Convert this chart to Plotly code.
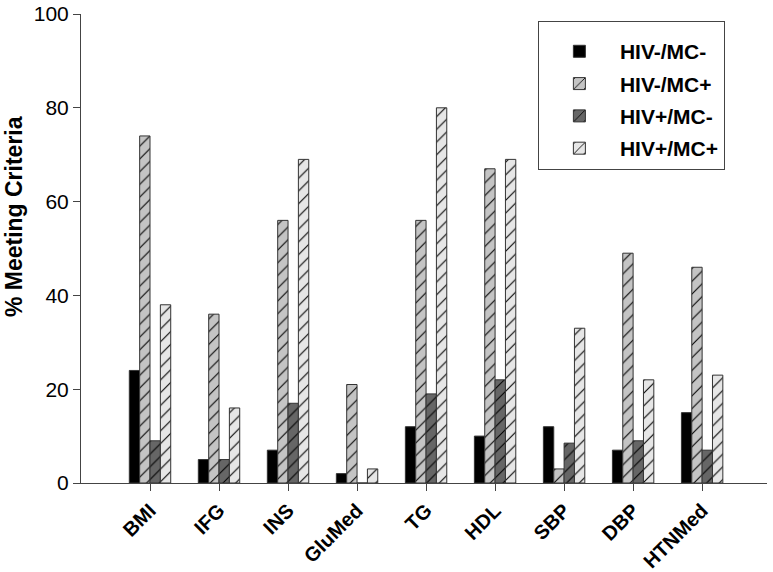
import plotly.graph_objects as go

categories = ["BMI", "IFG", "INS", "GluMed", "TG", "HDL", "SBP", "DBP", "HTNMed"]
hiv_neg_mc_neg = [24, 5, 7, 2, 12, 10, 12, 7, 15]
hiv_neg_mc_pos = [74, 36, 56, 21, 56, 67, 3, 49, 46]
hiv_pos_mc_neg = [9, 5, 17, 0, 19, 22, 8.5, 9, 7]
hiv_pos_mc_pos = [38, 16, 69, 3, 80, 69, 33, 22, 23]
y_ticks = [0, 20, 40, 60, 80, 100]
y_title = "% Meeting Criteria"

series = [
    ("HIV-/MC-", hiv_neg_mc_neg, "#000000", ""),
    ("HIV-/MC+", hiv_neg_mc_pos, "#c4c4c4", "/"),
    ("HIV+/MC-", hiv_pos_mc_neg, "#666666", "/"),
    ("HIV+/MC+", hiv_pos_mc_pos, "#e6e6e6", "/"),
]

fig = go.Figure()
for name, vals, color, shape in series:
    fig.add_trace(go.Bar(
        name=name, x=list(range(len(categories))), y=vals, legendgroup=name,
        marker=dict(color=color, line=dict(color="#333333", width=1),
                    pattern=dict(shape=shape, fgcolor="#000000", bgcolor=color,
                                 size=9, solidity=0.12, fillmode="replace")),
    ))

fig.add_annotation(text=y_title, xref="paper", yref="paper", x=-0.0977, y=0.569,
                   xanchor="center", yanchor="middle", textangle=-90, showarrow=False,
                   font=dict(size=23, weight="bold",
                             family="Liberation Sans, Arial, sans-serif"))

fig.update_layout(
    barmode="group", bargap=0.4, bargroupgap=0,
    width=773, height=572,
    margin=dict(l=81, r=6, t=14, b=89, autoexpand=False),
    plot_bgcolor="white", paper_bgcolor="white",
    font=dict(family="Liberation Sans, Arial, sans-serif", color="#000000"),
    legend=dict(x=0.666, y=0.985, xanchor="left", yanchor="top",
                bordercolor="#444444", borderwidth=1, bgcolor="white",
                font=dict(size=21, family="Liberation Sans, Arial, sans-serif", weight="bold"),
                title=dict(text=" ", font=dict(size=7)),
                tracegroupgap=2, itemwidth=71),
    xaxis=dict(range=[-1, 8.94], tickmode="array",
               tickvals=list(range(len(categories))), ticktext=categories,
               tickangle=-45, ticks="outside", ticklen=7, tickcolor="#444444",
               showline=True, linecolor="#444444", linewidth=1, showgrid=False,
               zeroline=False, automargin=False,
               tickfont=dict(size=20, weight="bold")),
    yaxis=dict(range=[0, 100], tickmode="array", tickvals=y_ticks,
               ticks="outside", ticklen=7, tickcolor="#444444",
               showline=True, linecolor="#444444", linewidth=1, showgrid=False,
               zeroline=False, automargin=False, tickfont=dict(size=21)),
)

fig.write_html("out.html", config={"displayModeBar": False},
               post_script="document.body.style.margin='0';document.body.style.overflow='hidden';")
